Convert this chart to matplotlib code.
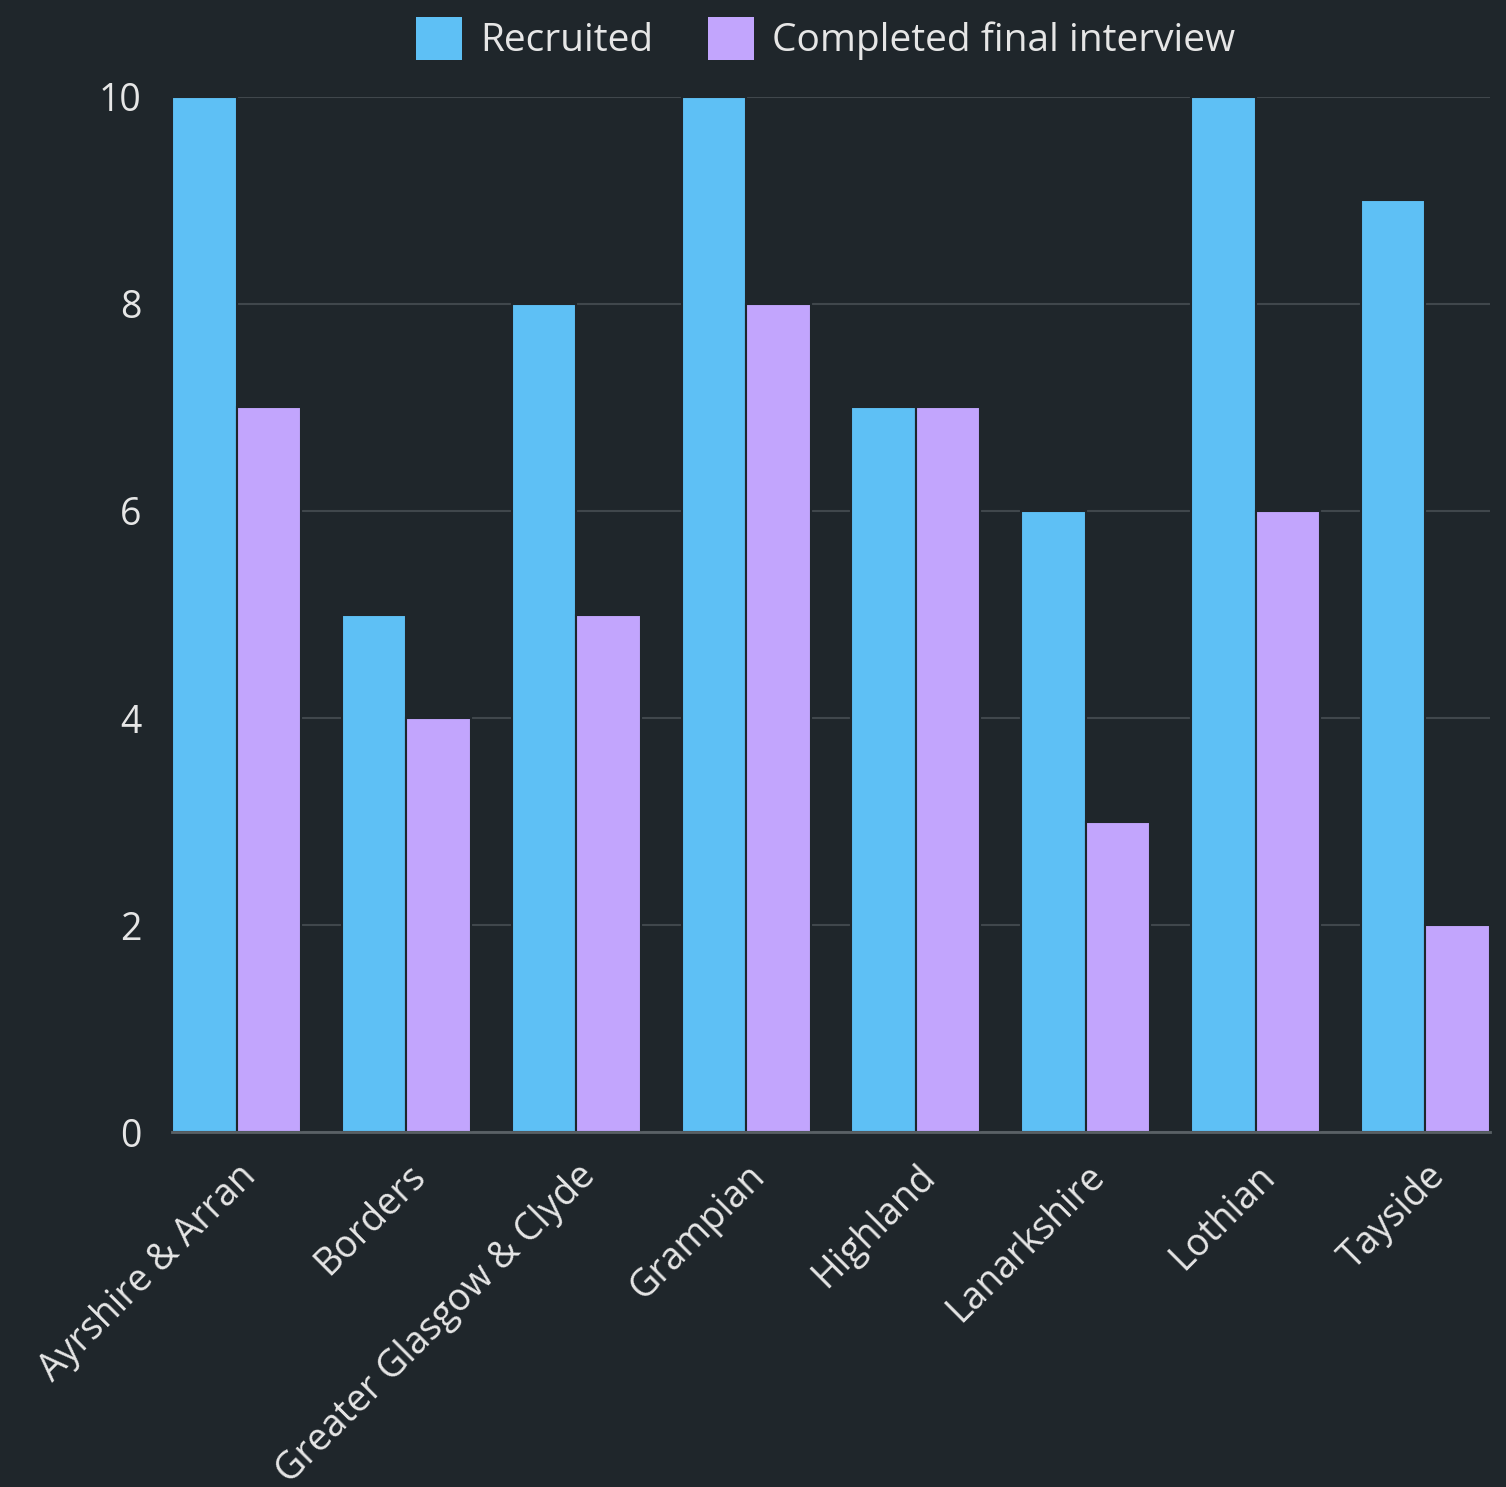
import numpy as np
import matplotlib.pyplot as plt
from matplotlib.patches import Patch

# Data
regions = ['Ayrshire & Arran', 'Borders', 'Greater Glasgow & Clyde', 'Grampian',
           'Highland', 'Lanarkshire', 'Lothian', 'Tayside']
recruited = [10, 5, 8, 10, 7, 6, 10, 9]
completed = [7, 4, 5, 8, 7, 3, 6, 2]
y_ticks = [0, 2, 4, 6, 8, 10]

# Style
BG = '#1f262b'
BLUE = '#5ec0f5'
PURPLE = '#c2a5fd'
GRID = '#40474c'
TEXT = '#e6e6e6'
plt.rcParams['font.family'] = ['Open Sans', 'DejaVu Sans']

fig = plt.figure(figsize=(15.06, 14.87), dpi=100, facecolor=BG)
ax = fig.add_axes([0.1142, 0.2387, 0.8752, 0.6961], facecolor=BG)

x = np.arange(len(regions))
w = 0.38
ax.bar(x - w / 2, recruited, w, color=BLUE, edgecolor=BG, linewidth=1.5, zorder=3)
ax.bar(x + w / 2, completed, w, color=PURPLE, edgecolor=BG, linewidth=1.5, zorder=3)

ax.set_xlim(-w, len(regions) - 1 + w)
ax.set_ylim(0, 10)
ax.set_yticks(y_ticks)
ax.set_yticklabels([str(t) for t in y_ticks])
ax.yaxis.grid(True, color=GRID, linewidth=1.5, zorder=0)
ax.set_axisbelow(True)

for s in ['top', 'right', 'left']:
    ax.spines[s].set_visible(False)
ax.spines['bottom'].set_color('#5a6166')
ax.spines['bottom'].set_linewidth(2)
ax.spines['bottom'].set_zorder(4)

ax.tick_params(axis='both', length=0, colors=TEXT, labelsize=27)
ax.tick_params(axis='y', pad=22)
ax.set_xticks(x)
ax.set_xticklabels(regions, rotation=45, ha='right', rotation_mode='anchor')
ax.tick_params(axis='x', pad=18)

handles = [Patch(facecolor=BLUE, label='Recruited'),
           Patch(facecolor=PURPLE, label='Completed final interview')]
leg = fig.legend(handles=handles, loc='upper center', bbox_to_anchor=(0.548, 1.012),
                 ncol=2, frameon=False, fontsize=28, handlelength=1.2, handleheight=1.3,
                 handletextpad=0.45, columnspacing=1.4)
for t in leg.get_texts():
    t.set_color(TEXT)

fig.savefig('out.png', dpi=100, facecolor=BG)
